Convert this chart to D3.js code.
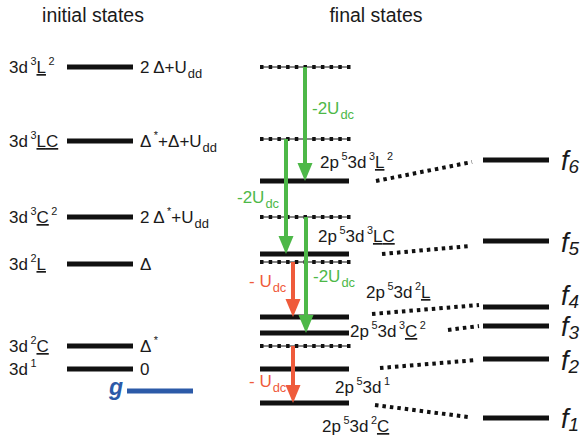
<!DOCTYPE html>
<html>
<head>
<meta charset="utf-8">
<script src="https://cdn.jsdelivr.net/npm/d3@7"></script>
<style>
body { margin:0; background:#fff; }
text { font-family: "Liberation Sans", Arial, sans-serif; fill:#1a1a1a; }
</style>
</head>
<body>
<svg id="chart" width="582" height="444"></svg>
<script>
// energies in arbitrary units (3d1 ground = 0)
var initLabels = ["3d|^3|~L|^2", "3d|^3|~L|~C", "3d|^3|~C|^2", "3d|^2|~L", "3d|^2|~C", "3d|^1"];
var initTerms = ["2 Δ+U|_dd", "Δ|^*|+Δ+U|_dd", "2 Δ|^*|+U|_dd", "Δ", "Δ|^*", "0"];
var initEnergies = [302, 228, 152, 105, 23, 0];
var groundEnergy = -22;

var unscreened = [302, 230, 152, 107, 23];          // dashed levels (before core-hole screening)
var finalEnergies = [188, 115, 52, 36, 0, -34];    // solid levels
var finalLabels = ["2p|^5|3d|^3|~L|^2", "2p|^5|3d|^3|~L|~C", "2p|^5|3d|^2|~L", "2p|^5|3d|^3|~C|^2", "2p|^5|3d|^1", "2p|^5|3d|^2|~C"];

var shiftFrom = [302, 230, 152, 107, 23];
var shiftTo = [188, 115, 36, 52, -34];
var shiftLabels = ["-2U|_dc", "-2U|_dc", "-2U|_dc", "- U|_dc", "- U|_dc"];
var shiftKind = ["g", "g", "g", "r", "r"];

var multNames = ["f|_6", "f|_5", "f|_4", "f|_3", "f|_2", "f|_1"];
var multEnergies = [209, 128, 62, 43, 10, -49];

var svg = d3.select("#chart");
var y = d3.scaleLinear().domain([0, 302]).range([369, 67]);
var colInit = [67, 133], colFinal = [260, 349], colMult = [483, 549];
var green = "#4db848", red = "#ef5b3b", blue = "#2c5aa8";

// small rich-text helper: tokens split by "|"; ^ sup, _ sub, ~ underlined
var rich = function(x, yy, str, size, color, italic){
  var t = svg.append("text").attr("x", x).attr("y", yy).style("font-size", size + "px");
  if (color) t.style("fill", color);
  if (italic) t.style("font-style", "italic");
  var cur = 0;
  str.split("|").forEach(function(tok){
    var shift = 0, s = size, txt = tok, und = false, dx = 0;
    if (tok[0] == "^") { shift = -0.45 * size; s = 0.64 * size; txt = tok.slice(1); dx = 2.5; }
    else if (tok[0] == "_") {
      txt = tok.slice(1);
      if (italic) { shift = 0.12 * size; s = 0.7 * size; dx = 0; }
      else { shift = 0.3 * size; s = 0.76 * size; dx = 1; }
    }
    else if (tok[0] == "~") { txt = tok.slice(1); und = true; }
    var ts = t.append("tspan").text(txt).attr("dy", shift - cur).attr("dx", dx).style("font-size", s + "px");
    if (und) ts.style("text-decoration", "underline");
    cur = shift;
  });
  return t;
};

svg.append("text").attr("x", 93).attr("y", 22).attr("text-anchor", "middle").style("font-size", "19.5px").text("initial states");
svg.append("text").attr("x", 376).attr("y", 22).attr("text-anchor", "middle").style("font-size", "19.5px").text("final states");

// initial states
initEnergies.forEach(function(e, i){
  svg.append("line").attr("x1", colInit[0]).attr("x2", colInit[1]).attr("y1", y(e)).attr("y2", y(e))
    .attr("stroke", "#111").attr("stroke-width", 5);
  rich(9, y(e) + 6, initLabels[i], 17);
  rich(140, y(e) + 6, initTerms[i], 17);
});
svg.append("line").attr("x1", 127).attr("x2", 193).attr("y1", y(groundEnergy)).attr("y2", y(groundEnergy))
  .attr("stroke", blue).attr("stroke-width", 5);
svg.append("text").attr("x", 109).attr("y", y(groundEnergy) + 4).style("font-size", "23px")
  .style("font-weight", "bold").style("font-style", "italic").style("fill", blue).text("g");

// final states: unscreened (dashed) and screened (solid)
unscreened.forEach(function(e){
  svg.append("line").attr("x1", colFinal[0]).attr("x2", colFinal[1]).attr("y1", y(e)).attr("y2", y(e))
    .attr("stroke", "#111").attr("stroke-width", 1.2);
  svg.append("line").attr("x1", colFinal[0]).attr("x2", colFinal[1] + 4).attr("y1", y(e)).attr("y2", y(e))
    .attr("stroke", "#111").attr("stroke-width", 4).attr("stroke-dasharray", "3.5,5.2");
});
finalEnergies.forEach(function(e){
  svg.append("line").attr("x1", colFinal[0]).attr("x2", colFinal[1]).attr("y1", y(e)).attr("y2", y(e))
    .attr("stroke", "#111").attr("stroke-width", 5);
});
var finalLabelPos = [[320, 168], [318, 242], [366, 298], [350, 337], [335, 393], [322, 432]];
finalLabels.forEach(function(l, i){ rich(finalLabelPos[i][0], finalLabelPos[i][1], l, 17); });

// screening shifts
var arrowX = [305, 286, 306, 293, 293];
var shiftLabelPos = [[312, 114], [237, 203], [313, 282], [249, 287], [249, 387]];
shiftFrom.forEach(function(e, i){
  var c = shiftKind[i] == "g" ? green : red, x = arrowX[i], yt = y(shiftTo[i]);
  svg.append("line").attr("x1", x).attr("x2", x).attr("y1", y(e)).attr("y2", yt - 16)
    .attr("stroke", c).attr("stroke-width", 4);
  svg.append("path").attr("d", "M" + (x - 7.5) + "," + (yt - 18) + "L" + (x + 7.5) + "," + (yt - 18) + "L" + x + "," + yt + "Z")
    .attr("fill", c);
  rich(shiftLabelPos[i][0], shiftLabelPos[i][1], shiftLabels[i], 17, c);
});

// multiplet levels and connectors
var connStart = [[376, 188], [382, 115], [372, 55], [448, 39], [380, 1], [375, -36]];
var connEnd = [[472, 207], [470, 123], [479, 64], [479, 43], [477, 9], [468, -48]];
var multLabelDy = [10, 11, -2, 10, 11, 10];
multEnergies.forEach(function(e, i){
  svg.append("line").attr("x1", colMult[0]).attr("x2", colMult[1]).attr("y1", y(e)).attr("y2", y(e))
    .attr("stroke", "#111").attr("stroke-width", 5);
  svg.append("line").attr("x1", connStart[i][0]).attr("y1", y(connStart[i][1]))
    .attr("x2", connEnd[i][0]).attr("y2", y(connEnd[i][1]))
    .attr("stroke", "#111").attr("stroke-width", 4).attr("stroke-dasharray", "3.5,4");
  rich(561, y(e) + multLabelDy[i], multNames[i], 27, null, true);
});
</script>
</body>
</html>
